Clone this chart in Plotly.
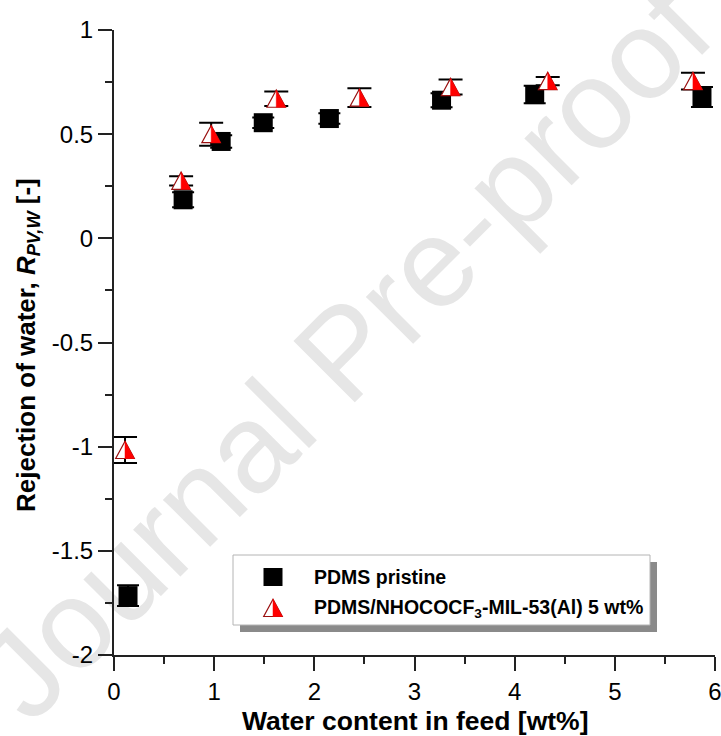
import plotly.graph_objects as go

# ---- data -------------------------------------------------------------
# PDMS pristine membrane
pristine_x = [0.14, 0.69, 1.07, 1.49, 2.15, 3.27, 4.20, 5.87]
pristine_y = [-1.715, 0.185, 0.465, 0.555, 0.575, 0.663, 0.690, 0.678]
pristine_err = [0.05, 0.036, 0.03, 0.025, 0.025, 0.034, 0.042, 0.048]

# PDMS/NHOCOCF3-MIL-53(Al) 5 wt% mixed-matrix membrane
mof_x = [0.11, 0.67, 0.97, 1.62, 2.45, 3.36, 4.33, 5.78]
mof_y = [-1.016, 0.276, 0.50, 0.67, 0.675, 0.726, 0.755, 0.755]
mof_err = [0.062, 0.022, 0.055, 0.035, 0.045, 0.036, 0.02, 0.04]

x_ticks = [0, 1, 2, 3, 4, 5, 6]
x_ticktext = ["0", "1", "2", "3", "4", "5", "6"]
x_minor = [0.5, 1.5, 2.5, 3.5, 4.5, 5.5]
y_ticks = [-2, -1.5, -1, -0.5, 0, 0.5, 1]
y_ticktext = ["-2", "-1.5", "-1", "-0.5", "0", "0.5", "1"]
y_minor = [-1.75, -1.25, -0.75, -0.25, 0.25, 0.75]

series_names = ["PDMS pristine", "PDMS/NHOCOCF<sub>3</sub>-MIL-53(Al) 5 wt%"]

# ---- geometry helpers -------------------------------------------------
W, H = 721, 736
M = dict(l=114, r=6, t=30, b=81)
PW = W - M["l"] - M["r"]
PH = H - M["t"] - M["b"]


def fx(px):
    return (px - M["l"]) / PW


def fy(py):
    return (H - M["b"] - py) / PH


FONT = "Liberation Sans, Arial, Helvetica, sans-serif"
TRI_FULL = "M 0,8.7 L -9.3,-8.5 L 9.3,-8.5 Z"
TRI_RIGHT = "M 0,8.7 L 0,-8.5 L 9.3,-8.5 Z"
RED = "#ff0000"
DARKRED = "#9a1010"


def half_triangle(xa, ya, xref="x", yref="y"):
    common = dict(type="path", xref=xref, yref=yref, xsizemode="pixel",
                  ysizemode="pixel", xanchor=xa, yanchor=ya, layer="above")
    return [
        dict(path=TRI_FULL, fillcolor="white",
             line=dict(color=DARKRED, width=1.2), **common),
        dict(path=TRI_RIGHT, fillcolor=RED,
             line=dict(color=RED, width=0.5), **common),
    ]


fig = go.Figure()

fig.add_trace(go.Scatter(
    x=pristine_x, y=pristine_y, mode="markers", name=series_names[0],
    marker=dict(symbol="square", size=19, color="black"),
    error_y=dict(type="data", array=pristine_err, visible=True,
                 color="black", thickness=2, width=11),
    showlegend=False,
))

fig.add_trace(go.Scatter(
    x=mof_x, y=mof_y, mode="markers", name=series_names[1],
    marker=dict(size=2, color="rgba(0,0,0,0)"),
    error_y=dict(type="data", array=mof_err, visible=True,
                 color="black", thickness=2, width=12),
    showlegend=False,
))

shapes = []

# watermark, under the data
shapes.append(dict(
    type="rect", xref="paper", yref="paper",
    x0=fx(-25), x1=fx(W - 25), y0=fy(H - 25), y1=fy(-25),
    line=dict(width=0), fillcolor="rgba(0,0,0,0)", layer="below",
    label=dict(text="Journal Pre-proof", textangle=-45,
               textposition="middle center",
               font=dict(family=FONT, size=126, color="#e6e6e6")),
))

# half-filled triangles for the MOF membrane
for xv, yv in zip(mof_x, mof_y):
    shapes += half_triangle(xv, yv)

# legend box with drop shadow
shapes.append(dict(type="rect", xref="paper", yref="paper",
                   x0=fx(240), x1=fx(657), y0=fy(632), y1=fy(562),
                   fillcolor="#8a8a8a", line=dict(width=0), layer="above"))
shapes.append(dict(type="rect", xref="paper", yref="paper",
                   x0=fx(233), x1=fx(650), y0=fy(625), y1=fy(555),
                   fillcolor="white", line=dict(color="#b4b4b4", width=1),
                   layer="above"))
shapes.append(dict(type="rect", xref="paper", yref="paper",
                   xsizemode="pixel", ysizemode="pixel",
                   xanchor=fx(273), yanchor=fy(577),
                   x0=-9.5, x1=9.5, y0=-9, y1=9,
                   fillcolor="black", line=dict(width=0), layer="above"))
shapes += half_triangle(fx(273), fy(608), xref="paper", yref="paper")

annotations = [
    dict(text="<b>" + series_names[0] + "</b>", xref="paper", yref="paper",
         x=fx(312), y=fy(577), xanchor="left", yanchor="middle",
         showarrow=False, font=dict(family=FONT, size=19.5, color="black")),
    dict(text="<b>" + series_names[1] + "</b>", xref="paper", yref="paper",
         x=fx(312), y=fy(608), xanchor="left", yanchor="middle",
         showarrow=False, font=dict(family=FONT, size=19.5, color="black")),
    dict(text="<b>Water content in feed [wt%]</b>", xref="paper",
         yref="paper", x=0.5, y=fy(721), xanchor="center", yanchor="middle",
         showarrow=False, font=dict(family=FONT, size=26.5, color="black")),
    dict(text="<b>Rejection of water, <i>R</i><sub><i>PV,W</i></sub> [-]</b>",
         xref="paper", yref="paper", x=fx(27), y=fy(345), xanchor="center",
         yanchor="middle", textangle=-90, showarrow=False,
         font=dict(family=FONT, size=26, color="black")),
]

axis_common = dict(
    showline=True, linecolor="#222222", linewidth=2, mirror=False,
    showgrid=False, zeroline=False, ticks="outside", ticklen=14,
    tickwidth=2, tickcolor="#222222", tickmode="array",
    ticklabeloverflow="allow", automargin=False,
    tickfont=dict(family=FONT, size=24, color="black"),
)

fig.update_layout(
    width=W, height=H, margin=dict(M, autoexpand=False),
    paper_bgcolor="white", plot_bgcolor="rgba(0,0,0,0)",
    showlegend=False,
    xaxis=dict(range=[0, 6], tickvals=x_ticks, ticktext=x_ticktext,
               minor=dict(tickmode="array", tickvals=x_minor, ticks="outside",
                          ticklen=7, tickwidth=2, tickcolor="#222222"),
               **axis_common),
    yaxis=dict(range=[-2, 1], tickvals=y_ticks, ticktext=y_ticktext,
               minor=dict(tickmode="array", tickvals=y_minor, ticks="outside",
                          ticklen=7, tickwidth=2, tickcolor="#222222"),
               **axis_common),
    shapes=shapes,
    annotations=annotations,
)

fig.write_html("out.html")
